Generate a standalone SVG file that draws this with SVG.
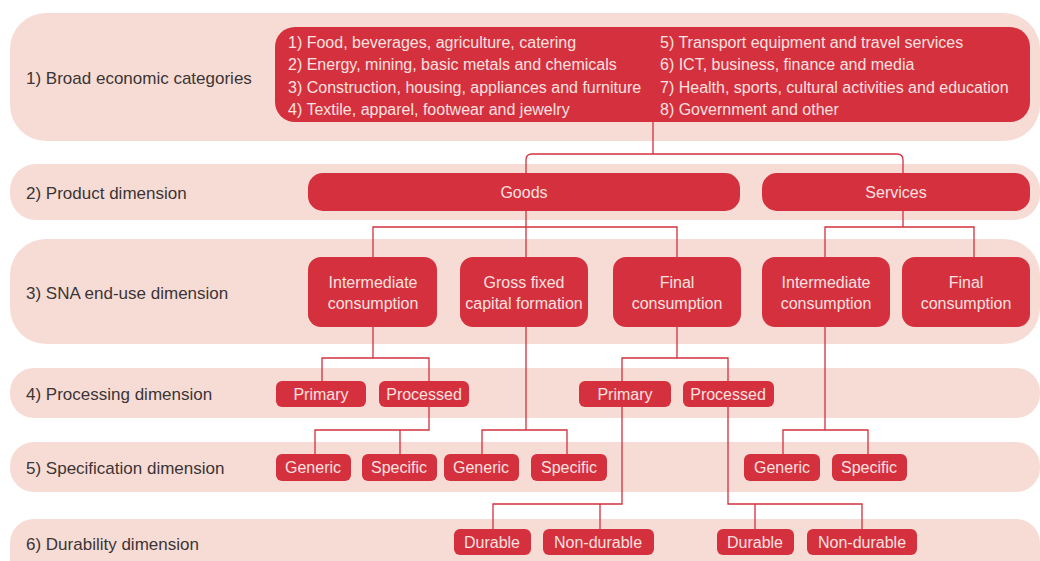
<svg xmlns="http://www.w3.org/2000/svg" width="1040" height="561" viewBox="0 0 1040 561">
<style>
.band{fill:#f7dcd5}
.node{fill:#d4303d}
.lbl{font-family:"Liberation Sans",Arial,sans-serif;font-size:17px;fill:#3b3536}
.nt{font-family:"Liberation Sans",Arial,sans-serif;font-size:16px;fill:#fbe1e0;text-anchor:middle}
.tt{font-family:"Liberation Sans",Arial,sans-serif;font-size:16px;fill:#fbe1e0}
.c{fill:none;stroke:#d4303d;stroke-width:1.3}
</style>
<rect width="1040" height="561" fill="#ffffff"/>
<g id="bands">
<rect class="band" x="10" y="13" width="1030" height="128" rx="36"/>
<rect class="band" x="10" y="164" width="1030" height="56" rx="26"/>
<rect class="band" x="10" y="239" width="1030" height="105" rx="36"/>
<rect class="band" x="10" y="368" width="1030" height="50" rx="24"/>
<rect class="band" x="10" y="442" width="1030" height="50" rx="24"/>
<rect class="band" x="10" y="519" width="1030" height="70" rx="24"/>
</g>
<g id="labels">
<text class="lbl" x="26" y="84">1) Broad economic categories</text>
<text class="lbl" x="26" y="199">2) Product dimension</text>
<text class="lbl" x="26" y="299">3) SNA end-use dimension</text>
<text class="lbl" x="26" y="400">4) Processing dimension</text>
<text class="lbl" x="26" y="474">5) Specification dimension</text>
<text class="lbl" x="26" y="550">6) Durability dimension</text>
</g>
<g id="connectors">
<path class="c" d="M653,122 V154 M526,260 V160 Q526,154 532,154 H897 Q903,154 903,160 V180"/>
<path class="c" d="M373,260 V227 H677 V260"/>
<path class="c" d="M903,205 V227 M825,260 V227 H974 V260"/>
<path class="c" d="M373,320 V358 M322,385 V358 H429 V385"/>
<path class="c" d="M677,320 V358 M622,385 V358 H728 V385"/>
<path class="c" d="M429,400 V430 H315 V458 M400,430 V458"/>
<path class="c" d="M526,320 V430 M482,458 V430 H567 V458"/>
<path class="c" d="M825,320 V430 M783,458 V430 H868 V458"/>
<path class="c" d="M622,400 V504 H493 V532 M600,504 V532"/>
<path class="c" d="M728,400 V504 H862 V532 M755,504 V532"/>
</g>
<g id="n-categories">
<rect class="node" x="275" y="27" width="755" height="95" rx="20"/>
<text class="tt" x="288" y="48">1) Food, beverages, agriculture, catering</text>
<text class="tt" x="288" y="70">2) Energy, mining, basic metals and chemicals</text>
<text class="tt" x="288" y="93">3) Construction, housing, appliances and furniture</text>
<text class="tt" x="288" y="115">4) Textile, apparel, footwear and jewelry</text>
<text class="tt" x="660" y="48">5) Transport equipment and travel services</text>
<text class="tt" x="660" y="70">6) ICT, business, finance and media</text>
<text class="tt" x="660" y="93">7) Health, sports, cultural activities and education</text>
<text class="tt" x="660" y="115">8) Government and other</text>
</g>
<g id="n-goods"><rect class="node" x="308" y="173" width="432" height="38" rx="15"/><text class="nt" x="524" y="198">Goods</text></g>
<g id="n-services"><rect class="node" x="762" y="173" width="268" height="38" rx="15"/><text class="nt" x="896" y="198">Services</text></g>
<g id="n-g-intermediate"><rect class="node" x="308" y="257" width="129" height="70" rx="13"/><text class="nt" x="373" y="288">Intermediate</text><text class="nt" x="373" y="309">consumption</text></g>
<g id="n-g-gfcf"><rect class="node" x="460" y="257" width="128" height="70" rx="13"/><text class="nt" x="524" y="288">Gross fixed</text><text class="nt" x="524" y="309">capital formation</text></g>
<g id="n-g-final"><rect class="node" x="613" y="257" width="128" height="70" rx="13"/><text class="nt" x="677" y="288">Final</text><text class="nt" x="677" y="309">consumption</text></g>
<g id="n-s-intermediate"><rect class="node" x="762" y="257" width="128" height="70" rx="13"/><text class="nt" x="826" y="288">Intermediate</text><text class="nt" x="826" y="309">consumption</text></g>
<g id="n-s-final"><rect class="node" x="902" y="257" width="128" height="70" rx="13"/><text class="nt" x="966" y="288">Final</text><text class="nt" x="966" y="309">consumption</text></g>
<g id="n-primary1"><rect class="node" x="276" y="381" width="90" height="26" rx="6"/><text class="nt" x="321" y="400">Primary</text></g>
<g id="n-processed1"><rect class="node" x="379" y="381" width="90" height="26" rx="6"/><text class="nt" x="424" y="400">Processed</text></g>
<g id="n-primary2"><rect class="node" x="579" y="381" width="92" height="26" rx="6"/><text class="nt" x="625" y="400">Primary</text></g>
<g id="n-processed2"><rect class="node" x="683" y="381" width="91" height="26" rx="6"/><text class="nt" x="728" y="400">Processed</text></g>
<g id="n-generic1"><rect class="node" x="276" y="454" width="75" height="27" rx="6"/><text class="nt" x="313" y="473">Generic</text></g>
<g id="n-specific1"><rect class="node" x="362" y="454" width="75" height="27" rx="6"/><text class="nt" x="399" y="473">Specific</text></g>
<g id="n-generic2"><rect class="node" x="444" y="454" width="75" height="27" rx="6"/><text class="nt" x="481" y="473">Generic</text></g>
<g id="n-specific2"><rect class="node" x="531" y="454" width="76" height="27" rx="6"/><text class="nt" x="569" y="473">Specific</text></g>
<g id="n-generic3"><rect class="node" x="744" y="454" width="76" height="27" rx="6"/><text class="nt" x="782" y="473">Generic</text></g>
<g id="n-specific3"><rect class="node" x="832" y="454" width="75" height="27" rx="6"/><text class="nt" x="869" y="473">Specific</text></g>
<g id="n-durable1"><rect class="node" x="454" y="529" width="77" height="26" rx="6"/><text class="nt" x="492" y="548">Durable</text></g>
<g id="n-nondurable1"><rect class="node" x="543" y="529" width="111" height="26" rx="6"/><text class="nt" x="598" y="548">Non-durable</text></g>
<g id="n-durable2"><rect class="node" x="717" y="529" width="77" height="26" rx="6"/><text class="nt" x="755" y="548">Durable</text></g>
<g id="n-nondurable2"><rect class="node" x="807" y="529" width="110" height="26" rx="6"/><text class="nt" x="862" y="548">Non-durable</text></g>
</svg>
